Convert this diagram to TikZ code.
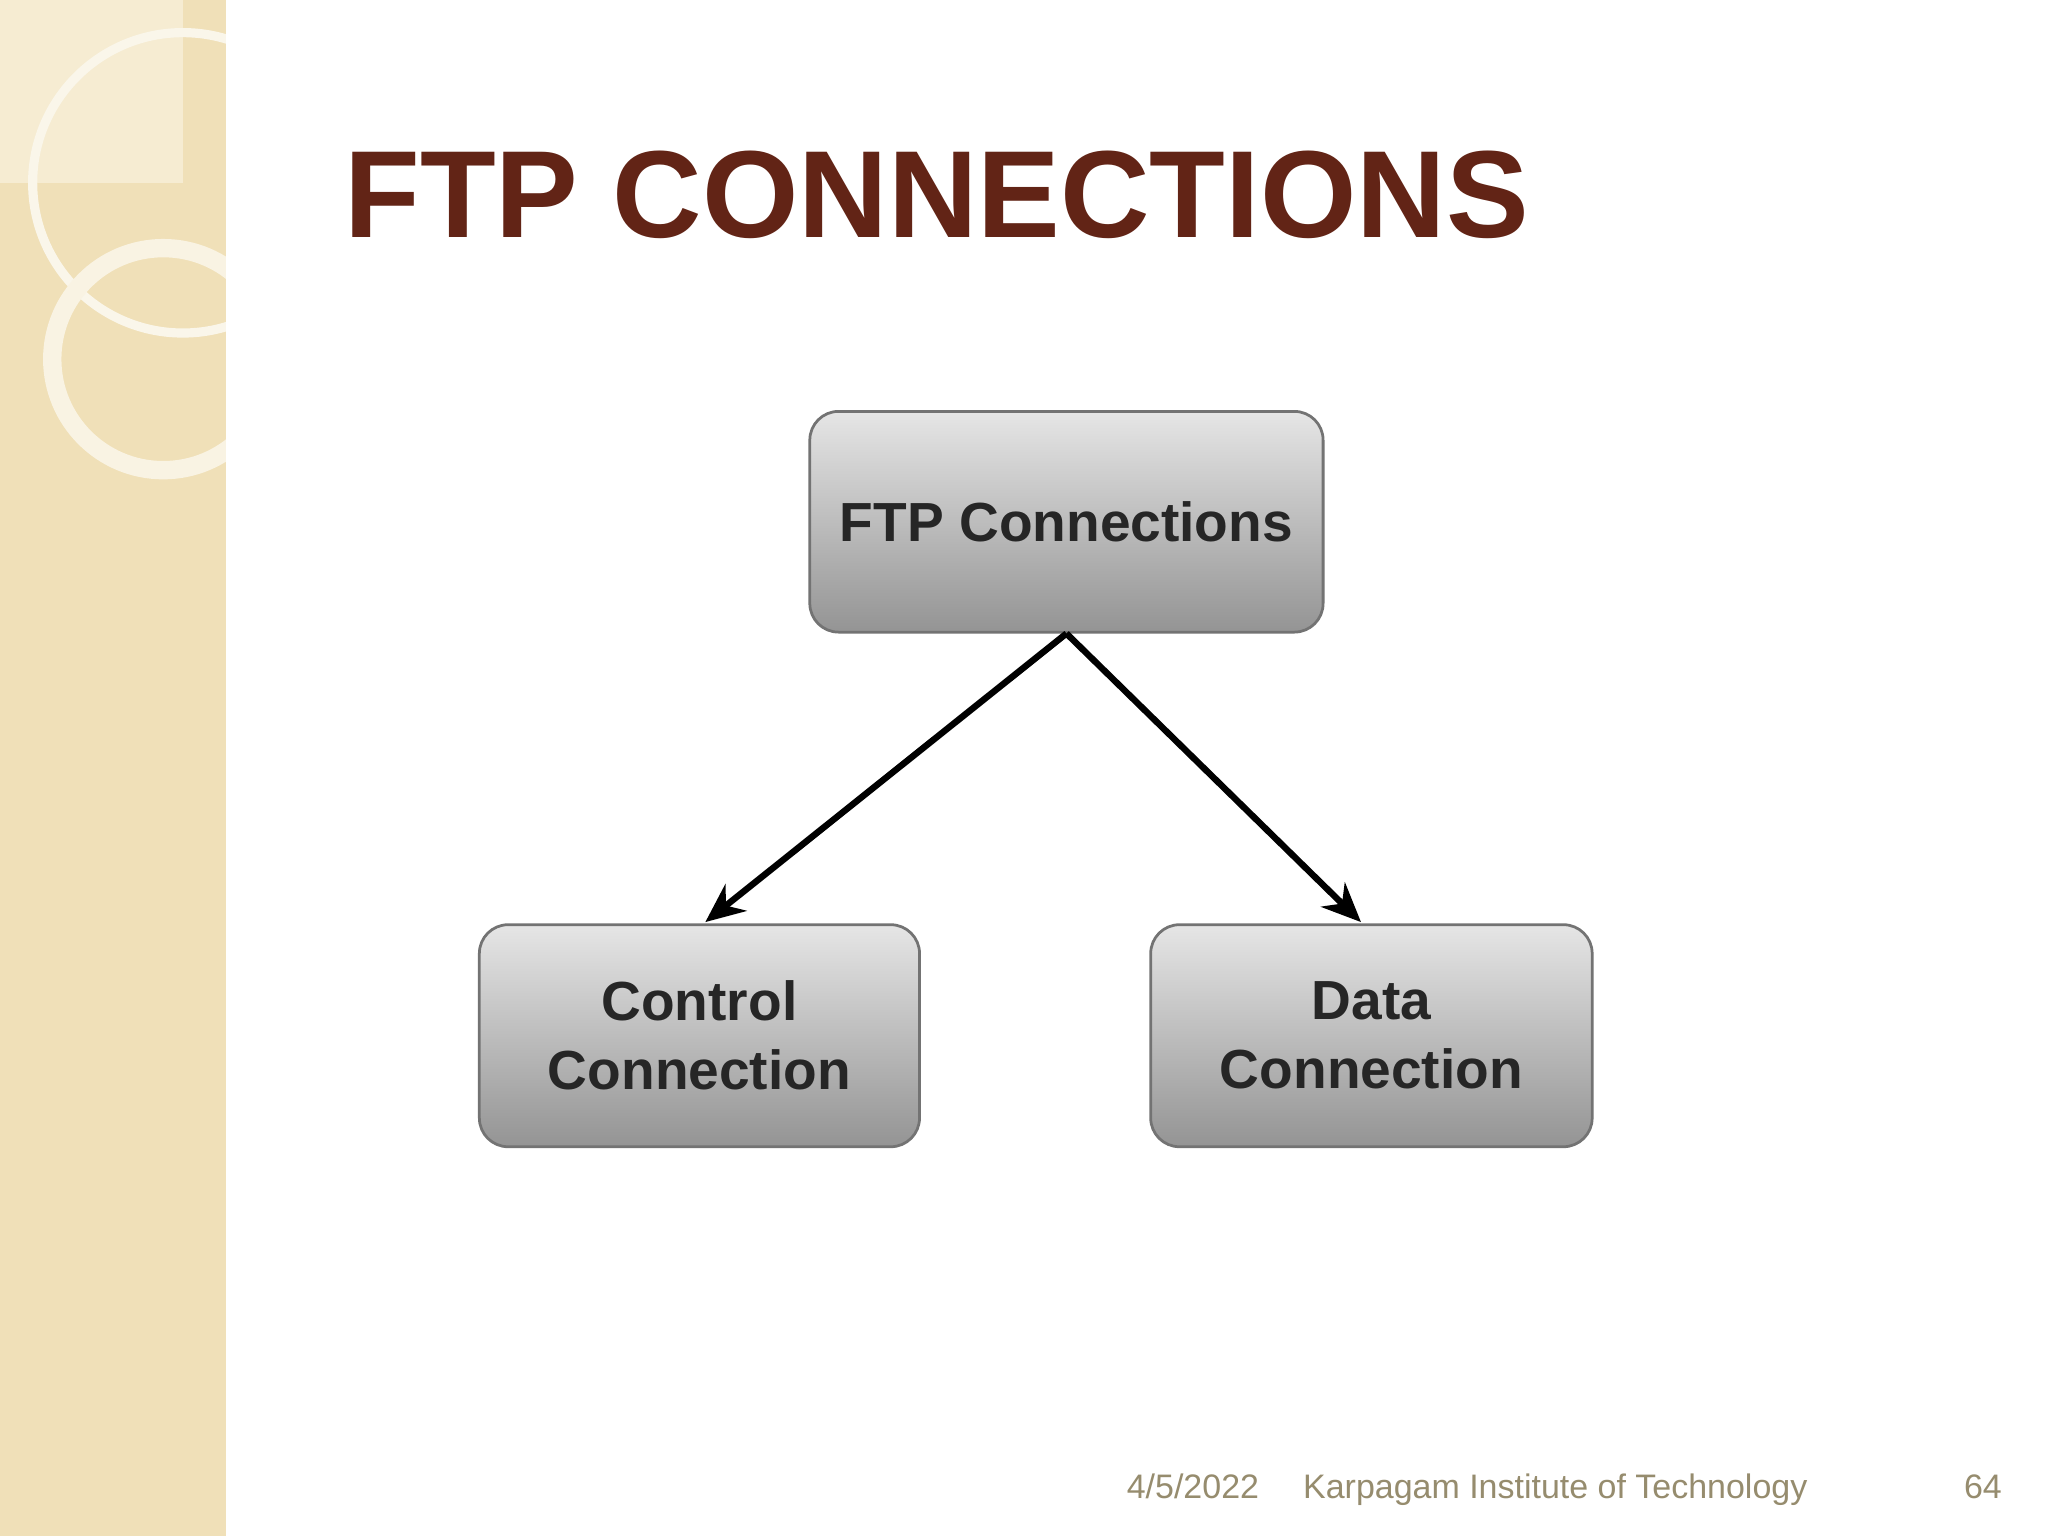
\documentclass[tikz,border=0pt]{standalone}
\usepackage{fontspec}
\setmainfont{Liberation Sans}
\usetikzlibrary{arrows.meta}
\definecolor{beige}{RGB}{240,224,184}
\definecolor{beigelt}{RGB}{246,236,210}
\definecolor{titlec}{RGB}{98,36,22}
\definecolor{footc}{RGB}{150,140,110}
\tikzset{
  box/.style={draw=black!55, line width=0.6pt, rounded corners=0.22cm, top color=black!10, bottom color=black!42, text=black!85, font=\bfseries\fontsize{12}{15}\selectfont, align=center, inner sep=0pt},
  arr/.style={-{Stealth[length=0.3cm,width=0.26cm]}, line width=1.4pt},
  foot/.style={text=footc, font=\fontsize{7.4}{9}\selectfont, anchor=base west, inner sep=0pt}
}
\begin{document}
\begin{tikzpicture}[x=1cm,y=1cm]
\useasboundingbox (0,0) rectangle (15.68,11.76);
\fill[white] (0,0) rectangle (15.68,11.76);
\fill[beige] (0,0) rectangle (1.73,11.76);
\fill[beigelt] (0,11.76) rectangle (1.40,10.36);
\begin{scope}
\clip (0,0) rectangle (1.73,11.76);
\draw[white!70!beige, line width=2pt] (1.40,10.36) circle (1.15);
\draw[white!60!beige, line width=4pt] (1.25,9.01) circle (0.85);
\end{scope}
\node[text=titlec, font=\bfseries\fontsize{27}{32}\selectfont, anchor=base west, inner sep=0pt] (title) at (2.63,9.94) {FTP CONNECTIONS};
\node[box, minimum width=3.93cm, minimum height=1.69cm] (top) at (8.165,7.765) {FTP Connections};
\node[box, minimum width=3.37cm, minimum height=1.70cm] (left) at (5.355,3.83) {Control\\Connection};
\node[box, minimum width=3.38cm, minimum height=1.70cm] (right) at (10.50,3.83) {Data\\Connection};
\draw[arr] (top.south) -- (5.40,4.70);
\draw[arr] (top.south) -- (10.42,4.70);
\node[foot] (date) at (8.62,0.29) {4/5/2022};
\node[foot] (inst) at (9.97,0.29) {Karpagam Institute of Technology};
\node[foot] (num) at (15.03,0.29) {64};
\end{tikzpicture}
\end{document}
